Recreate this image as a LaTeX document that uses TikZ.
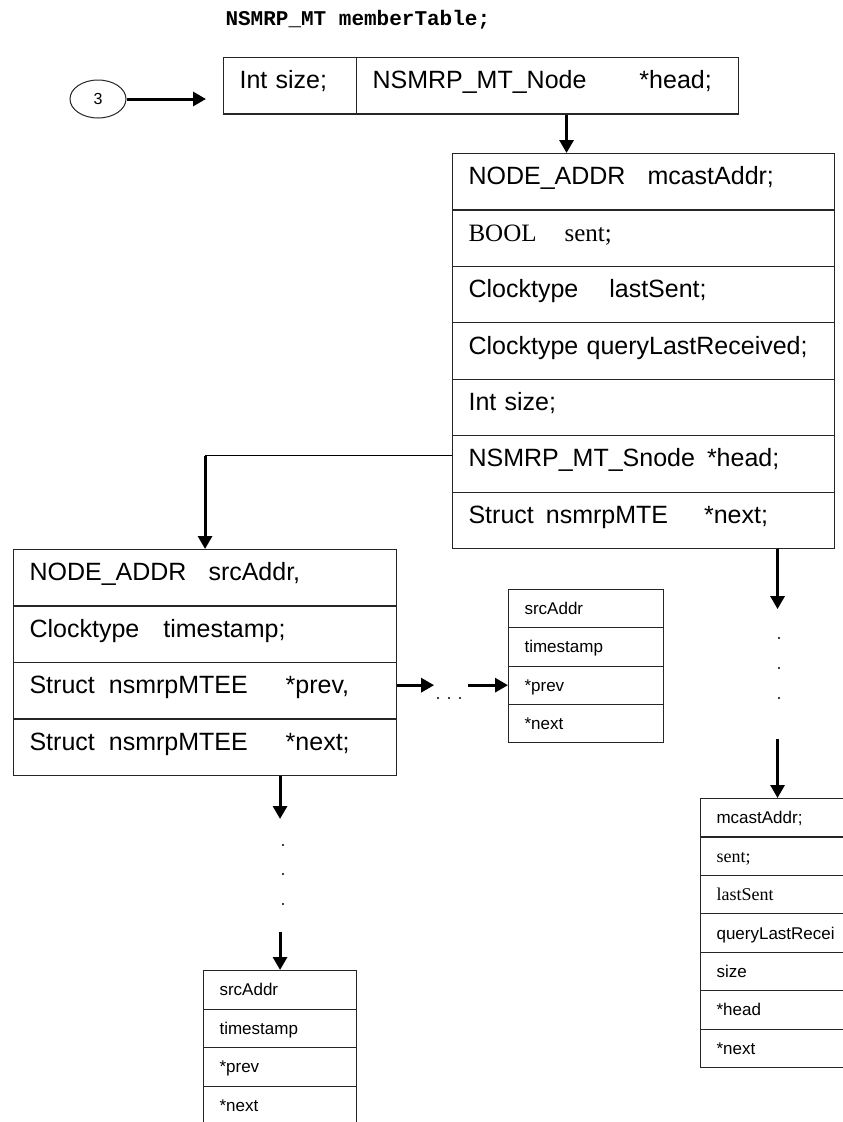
\documentclass[tikz,border=0pt]{standalone}
\usepackage{fontspec}
\setmainfont{Liberation Sans}
\newfontfamily\seriffam{Liberation Serif}
\newfontfamily\codefam{Liberation Mono}
\usepackage{tikz}
\usetikzlibrary{arrows.meta, shapes.geometric, positioning}

\newcommand{\bigfont}{\fontsize{25}{30}\selectfont}
\newcommand{\smallfont}{\fontsize{17}{20}\selectfont}

\begin{document}
\begin{tikzpicture}[
  x=1pt, y=-1pt,
  field/.style={
    draw=black!85,
    line width=1.1pt,
    anchor=north west,
    text width=#1,
    align=left,
    inner xsep=16pt,
    inner ysep=0pt,
    font=\bigfont,
    text height=18pt,
    text depth=12pt,
    minimum height=56.4pt
  },
  sfield/.style={
    field=#1,
    font=\smallfont,
    text height=12pt,
    text depth=0pt,
    minimum height=38.4pt
  },
  ptr/.style={-{Triangle[length=13pt,width=14pt]}, line width=3pt},
  link/.style={line width=1.1pt}
]

\path[use as bounding box, fill=white] (0,0) rectangle (843,1122);
\clip (0,0) rectangle (843,1122);

\node[anchor=base west, font=\codefam\bfseries\fontsize{21}{24}\selectfont] (title) at (222,25)
  {NSMRP\_MT memberTable;};

\node[draw=black!85, line width=1pt, ellipse, minimum width=56pt, minimum height=38pt,
  inner sep=0pt, font=\fontsize{16}{18}\selectfont] (num) at (98,99) {3};

% member table
\node[field=101pt] (mtSize) at (223,57) {Int size;};
\node[field=350pt] (mtHead) at (356,57) {NSMRP\_MT\_Node\hspace{53pt}*head;};

% entry
\foreach \txt [count=\i] in {
  {NODE\_ADDR\hspace{22pt}mcastAddr;},
  {\seriffam BOOL\hspace{28pt}sent;},
  {Clocktype\hspace{31pt}lastSent;},
  {Clocktype queryLastReceived;},
  {Int size;},
  {NSMRP\_MT\_Snode\hspace{12pt}*head;},
  {Struct\hspace{12pt}nsmrpMTE\hspace{36pt}*next;}}
  \node[field=350pt] (mte\i) at (452,{153+56.43*(\i-1)}) {\txt};

% source list
\foreach \txt [count=\i] in {
  {NODE\_ADDR\hspace{22pt}srcAddr,},
  {Clocktype\hspace{24pt}timestamp;},
  {Struct\hspace{14pt}nsmrpMTEE\hspace{38pt}*prev,},
  {Struct\hspace{14pt}nsmrpMTEE\hspace{38pt}*next;}}
  \node[field=351pt] (mtee\i) at (13,{549+56.5*(\i-1)}) {\txt};

\foreach \txt [count=\i] in {srcAddr, timestamp, *prev, *next}
  \node[sfield=123pt, minimum height=38.25pt] (sb\i) at (508,{589+38.25*(\i-1)}) {\txt};

\foreach \txt [count=\i] in {srcAddr, timestamp, *prev, *next}
  \node[sfield=121pt, minimum height=38.5pt] (bl\i) at (203,{970+38.5*(\i-1)}) {\txt};

\foreach \txt [count=\i] in {
  {mcastAddr;},
  {\seriffam\fontsize{18}{20}\selectfont sent;},
  {\seriffam\fontsize{18}{20}\selectfont lastSent},
  {queryLastRecei}, {size}, {*head}, {*next}}
  \node[sfield=122pt] (br\i) at (700,{798+38.43*(\i-1)}) {\txt};

% pointers
\draw[ptr, shorten >=17pt] (num.east) -- (num.east -| mtSize.west);
\draw[ptr] ([xshift=19pt]mtHead.south) -- ([xshift=19pt]mtHead.south |- mte1.north);

\coordinate (snode) at ([yshift=8pt]mte6.west);
\draw[link] (snode) -- (snode -| mtee1.north);
\draw[ptr] (snode -| mtee1.north) -- (mtee1.north);

\draw[ptr] (mtee3.east |- sb3.west) -- ++(37,0);
\draw[ptr] ([xshift=-40pt]sb3.west) -- (sb3.west);
\foreach \x in {438,449,460}
  \fill (\x,698) circle (1.1pt);

\draw[ptr] (mtee4.south -| bl1.north) -- ++(0,43);
\draw[ptr] ([yshift=38pt]bl1.north) -- (bl1.north);
\foreach \y in {845,874,904}
  \fill (283,\y) circle (1.1pt);

\draw[ptr] (mte7.south -| br1.north) -- ++(0,60);
\draw[ptr] ([yshift=59pt]br1.north) -- (br1.north);
\foreach \y in {638,668,698}
  \fill (779,\y) circle (1.1pt);

\end{tikzpicture}
\end{document}
